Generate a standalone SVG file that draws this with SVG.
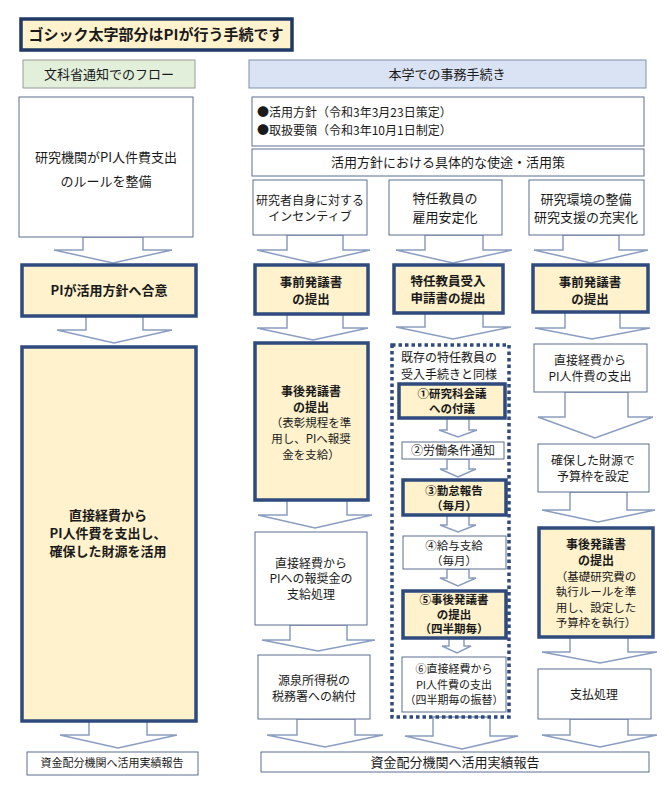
<svg xmlns="http://www.w3.org/2000/svg" width="669" height="793" viewBox="0 0 669 793">
<style>
text{font-family:"Noto Sans CJK JP","Liberation Sans",sans-serif;fill:#1a1a1a;text-anchor:middle}
.r{font-size:12px}
.m{font-size:13px}
.b{font-size:13px;font-weight:bold}
.bp{font-size:12.5px;font-weight:bold}
.bm{font-size:12px;font-weight:bold}
.bs{font-size:11.5px;font-weight:bold}
.s{font-size:11.5px}
.plain{fill:#fff;stroke:#5B6E8F;stroke-width:1}
.key{fill:#FFF2CC;stroke:#2F4A7D;stroke-width:3.5}
.arr{fill:#fff;stroke:#8A9DC0;stroke-width:1.5;stroke-linejoin:miter}
</style>
<rect width="669" height="793" fill="#fff"/>
<g id="connectors">
<polygon class="arr" points="83,237 83,250 54,250 113,263 172,250 143,250 143,237"/>
<polygon class="arr" points="86,316 86,330 57,330 114,343 172,330 143,330 143,316"/>
<polygon class="arr" points="89,721 89,735 60,735 118,748 177,735 147,735 147,721"/>
<polygon class="arr" points="287,235 287,250 257,250 313,263 370,250 343,250 343,235"/>
<polygon class="arr" points="287,314 287,328 257,328 313,340 368,328 343,328 343,314"/>
<polygon class="arr" points="287,500 287,515 258,515 315,528 372,515 347,515 347,500"/>
<polygon class="arr" points="290,625 290,640 262,640 318,651 375,640 347,640 347,625"/>
<polygon class="arr" points="297,719 297,735 267,735 325,747 383,735 355,735 355,719"/>
<polygon class="arr" points="425,235 425,250 396,250 453,263 512,250 483,250 483,235"/>
<polygon class="arr" points="425,313 425,327 396,327 453,339 511,327 483,327 483,313"/>
<polygon class="arr" points="447,418 447,430 439,430 458,437 477,430 469,430 469,418"/>
<polygon class="arr" points="447,459 447,469 440,469 458,477 476,469 469,469 469,459"/>
<polygon class="arr" points="447,515 447,525 440,525 458,532 476,525 469,525 469,515"/>
<polygon class="arr" points="447,569 447,578 440,578 458,586 476,578 469,578 469,569"/>
<polygon class="arr" points="449,638 449,646 442,646 457,653 471,646 464,646 464,638"/>
<polygon class="arr" points="433,717 433,736 405,736 462,749 518,736 490,736 490,717"/>
<polygon class="arr" points="563,235 563,250 534,250 591,263 648,250 619,250 619,235"/>
<polygon class="arr" points="565,312 565,328 535,328 592,339 650,328 620,328 620,312"/>
<polygon class="arr" points="565,392 565,417 538,417 595,438 653,417 628,417 628,392"/>
<polygon class="arr" points="570,492 570,510 542,510 598,522 655,510 627,510 627,492"/>
<polygon class="arr" points="570,637 570,652 542,652 600,663 657,652 628,652 628,637"/>
<polygon class="arr" points="570,719 570,735 542,735 600,747 657,735 628,735 628,719"/>
</g>
<g id="title">
<rect x="21" y="19" width="271" height="31" fill="#FFF2CC" stroke="#1F3864" stroke-width="3.5"/>
<text x="156" y="40" style="font-size:15px;font-weight:bold">ゴシック太字部分はPIが行う手続です</text>
</g>
<g id="hdr-left">
<rect x="23" y="60" width="172" height="28" fill="#E2EFDA" stroke="#9A9A9A"/>
<text class="m" x="109" y="79">文科省通知でのフロー</text>
</g>
<g id="hdr-right">
<rect x="249" y="60" width="397" height="28" fill="#DAE3F3" stroke="#7F8FA9"/>
<text class="m" x="447" y="79">本学での事務手続き</text>
</g>
<g id="left-1">
<rect class="plain" x="19" y="97" width="174" height="140"/>
<text class="m" x="106" y="162">研究機関がPI人件費支出</text>
<text class="m" x="106" y="186">のルールを整備</text>
</g>
<g id="left-2">
<rect class="key" x="22" y="265" width="174" height="51"/>
<text class="b" x="109" y="295">PIが活用方針へ合意</text>
</g>
<g id="left-3">
<rect class="key" x="22" y="347" width="174" height="374"/>
<text class="b" x="108" y="520">直接経費から</text>
<text class="b" x="108" y="538">PI人件費を支出し、</text>
<text class="b" x="108" y="556">確保した財源を活用</text>
</g>
<g id="left-4">
<rect class="plain" x="27" y="752" width="171" height="23"/>
<text x="112" y="767" style="font-size:11px">資金配分機関へ活用実績報告</text>
</g>
<g id="policy">
<rect class="plain" x="252" y="97" width="392" height="49"/>
<text x="257" y="117" style="font-size:12px;text-anchor:start">●活用方針（令和3年3月23日策定）</text>
<text x="257" y="135" style="font-size:12px;text-anchor:start">●取扱要領（令和3年10月1日制定）</text>
</g>
<g id="uses">
<rect class="plain" x="252" y="149" width="392" height="27"/>
<text class="m" x="448" y="167">活用方針における具体的な使途・活用策</text>
</g>
<g id="a1">
<rect class="plain" x="253" y="180" width="114" height="55"/>
<text class="r" x="310" y="204.5">研究者自身に対する</text>
<text class="r" x="310" y="221">インセンティブ</text>
</g>
<g id="b1">
<rect class="plain" x="389" y="180" width="113" height="55"/>
<text class="m" x="445" y="203">特任教員の</text>
<text class="m" x="445" y="221.5">雇用安定化</text>
</g>
<g id="c1">
<rect class="plain" x="529" y="180" width="115" height="55"/>
<text class="m" x="586" y="203.5">研究環境の整備</text>
<text class="m" x="586" y="221.5">研究支援の充実化</text>
</g>
<g id="a2">
<rect class="key" x="255" y="265" width="113" height="49"/>
<text class="bp" x="311" y="286.5">事前発議書</text>
<text class="bp" x="311" y="304">の提出</text>
</g>
<g id="a3">
<rect class="key" x="255" y="343" width="113" height="157"/>
<text class="bm" x="311" y="396">事後発議書</text>
<text class="bm" x="311" y="412">の提出</text>
<text class="s" x="311" y="427">（表彰規程を準</text>
<text class="s" x="311" y="443">用し、PIへ報奨</text>
<text class="s" x="311" y="459">金を支給）</text>
</g>
<g id="a4">
<rect class="plain" x="255" y="532" width="112" height="93"/>
<text class="r" x="311" y="567.5">直接経費から</text>
<text class="r" x="311" y="583">PIへの報奨金の</text>
<text class="r" x="311" y="598.5">支給処理</text>
</g>
<g id="a5">
<rect class="plain" x="258" y="655" width="112" height="64"/>
<text class="r" x="314" y="684.5">源泉所得税の</text>
<text class="r" x="314" y="700.5">税務署への納付</text>
</g>
<g id="report">
<rect class="plain" x="261" y="752" width="388" height="20"/>
<text class="m" x="455" y="766.5">資金配分機関へ活用実績報告</text>
</g>
<g id="b2">
<rect class="key" x="394" y="265" width="109" height="48"/>
<text class="bp" x="448" y="285.5">特任教員受入</text>
<text class="bp" x="448" y="303">申請書の提出</text>
</g>
<g id="b-group">
<rect x="392" y="345" width="117" height="372" fill="none" stroke="#2F4A7D" stroke-width="3.5" stroke-dasharray="3.5 3"/>
<text class="r" x="449" y="362">既存の特任教員の</text>
<text class="r" x="449" y="378.5">受入手続きと同様</text>
</g>
<g id="b-s1">
<rect class="key" x="399" y="384" width="106" height="34"/>
<text class="bs" x="452" y="398">①研究科会議</text>
<text class="bs" x="452" y="412.5">への付議</text>
</g>
<g id="b-s2">
<rect class="plain" x="402" y="442" width="102" height="17"/>
<text class="r" x="453" y="454.5">②労働条件通知</text>
</g>
<g id="b-s3">
<rect class="key" x="403" y="480" width="103" height="35"/>
<text class="bs" x="454" y="495">③勤怠報告</text>
<text class="bs" x="454" y="509.5">（毎月）</text>
</g>
<g id="b-s4">
<rect class="plain" x="403" y="536" width="103" height="33"/>
<text class="s" x="454" y="550">④給与支給</text>
<text class="s" x="454" y="565">（毎月）</text>
</g>
<g id="b-s5">
<rect class="key" x="403" y="591" width="103" height="47"/>
<text class="bs" x="454" y="604">⑤事後発議書</text>
<text class="bs" x="454" y="618.5">の提出</text>
<text class="bs" x="454" y="633">（四半期毎）</text>
</g>
<g id="b-s6">
<rect class="plain" x="402" y="657" width="104" height="55"/>
<text x="454" y="673" style="font-size:11px">⑥直接経費から</text>
<text x="454" y="688.5" style="font-size:11px">PI人件費の支出</text>
<text x="454" y="704" style="font-size:11px">（四半期毎の振替）</text>
</g>
<g id="c2">
<rect class="key" x="533" y="265" width="115" height="47"/>
<text class="bp" x="590" y="286.5">事前発議書</text>
<text class="bp" x="590" y="304">の提出</text>
</g>
<g id="c3">
<rect class="plain" x="534" y="344" width="113" height="48"/>
<text class="r" x="590" y="364.5">直接経費から</text>
<text class="r" x="590" y="380.5">PI人件費の支出</text>
</g>
<g id="c4">
<rect class="plain" x="538" y="444" width="111" height="48"/>
<text class="r" x="593" y="464.5">確保した財源で</text>
<text class="r" x="593" y="480.5">予算枠を設定</text>
</g>
<g id="c5">
<rect class="key" x="539" y="528" width="114" height="109"/>
<text class="bm" x="596" y="548.5">事後発議書</text>
<text class="bm" x="596" y="564.5">の提出</text>
<text class="s" x="596" y="580.5">（基礎研究費の</text>
<text class="s" x="596" y="596">執行ルールを準</text>
<text class="s" x="596" y="611.5">用し、設定した</text>
<text class="s" x="596" y="627">予算枠を執行）</text>
</g>
<g id="c6">
<rect class="plain" x="538" y="669" width="113" height="50"/>
<text class="r" x="594" y="698.5">支払処理</text>
</g>
</svg>
